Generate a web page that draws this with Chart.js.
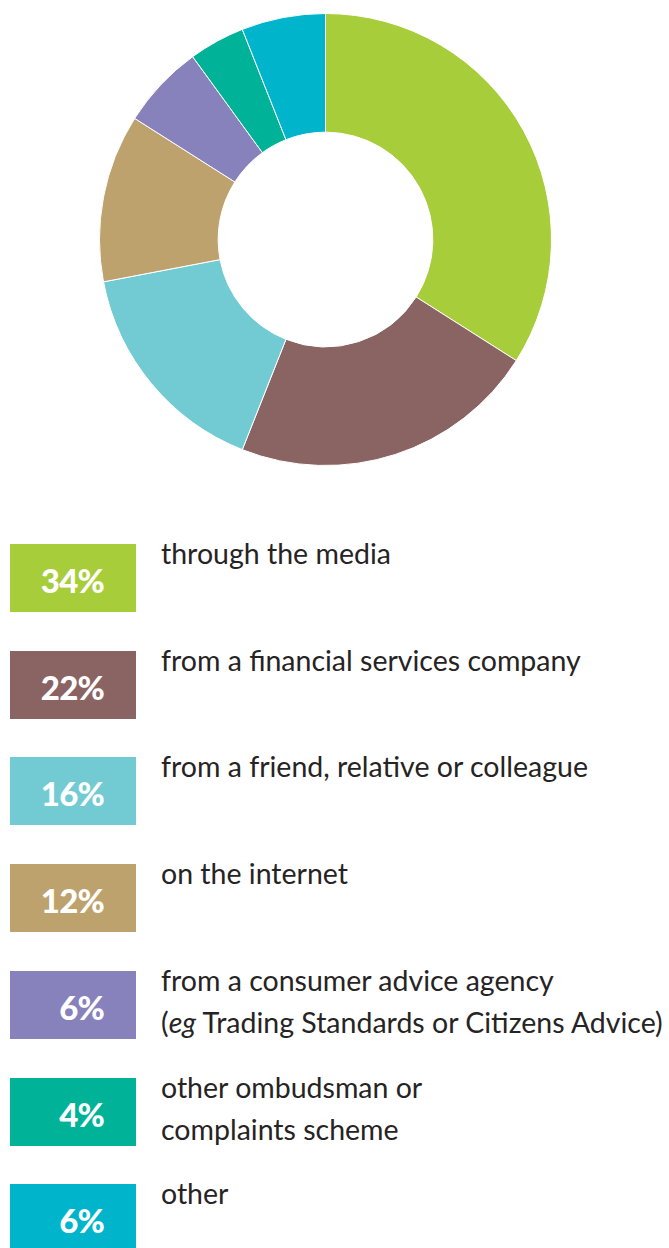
<!DOCTYPE html>
<html>
<head>
<meta charset="utf-8">
<script src="https://cdn.jsdelivr.net/npm/chart.js@4/dist/chart.umd.min.js"></script>
<style>
  html, body { margin: 0; padding: 0; background: #fff; }
  body { width: 669px; height: 1248px; position: relative; overflow: hidden; font-family: Lato, "Open Sans", sans-serif; }
  #wrap { position: absolute; left: 0; top: 0; width: 669px; height: 480px; }
  #legend { position: absolute; left: 0; top: 544px; width: 669px; }
  .row { position: absolute; left: 0; height: 68px; width: 669px; }
  .box { position: absolute; left: 10px; top: 0; width: 126px; height: 68px; }
  .pct { position: absolute; right: 32px; top: 1px; line-height: 70px; color: #fff; font-weight: 900; font-size: 33px; letter-spacing: -0.8px; }
  .lbl { position: absolute; left: 161px; top: -12px; color: #262324; font-size: 28.5px; line-height: 42px; white-space: nowrap; letter-spacing: 0; }
</style>
</head>
<body>
<div id="wrap"><canvas id="myChart"></canvas></div>
<div id="legend"></div>
<script>
const categories = [
  "through the media",
  "from a financial services company",
  "from a friend, relative or colleague",
  "on the internet",
  "from a consumer advice agency<br>(<i>eg</i> Trading Standards or Citizens Advice)",
  "other ombudsman or<br>complaints scheme",
  "other"
];
const values = [34, 22, 16, 12, 6, 4, 6];
const colours = ["#a8cd3a", "#8a6363", "#72cbd3", "#bda26d", "#8781bc", "#00b398", "#00b5cb"];

const rowStep = 106.7;

// legend boxes under the doughnut
const legend = document.getElementById("legend");
categories.forEach((c, i) => {
  const row = document.createElement("div");
  row.className = "row";
  row.style.top = Math.round(i * rowStep) + "px";
  row.innerHTML =
    '<div class="box" style="background:' + colours[i] + '"><span class="pct">' + values[i] + '%</span></div>' +
    '<div class="lbl">' + c + '</div>';
  legend.appendChild(row);
});

const ctx = document.getElementById("myChart");
new Chart(ctx, {
  type: "doughnut",
  data: {
    labels: categories.map(c => c.replace(/<[^>]+>/g, "")),
    datasets: [
      {
        data: values,
        backgroundColor: colours,
        borderColor: "#ffffff",
        borderWidth: 1
      }
    ]
  },
  options: {
    responsive: true,
    maintainAspectRatio: false,
    animation: false,
    cutout: "47.5%",
    layout: { padding: { left: 99, right: 117, top: 13, bottom: 14 } },
    plugins: {
      legend: { display: false },
      tooltip: { enabled: false }
    }
  }
});
</script>
</body>
</html>
